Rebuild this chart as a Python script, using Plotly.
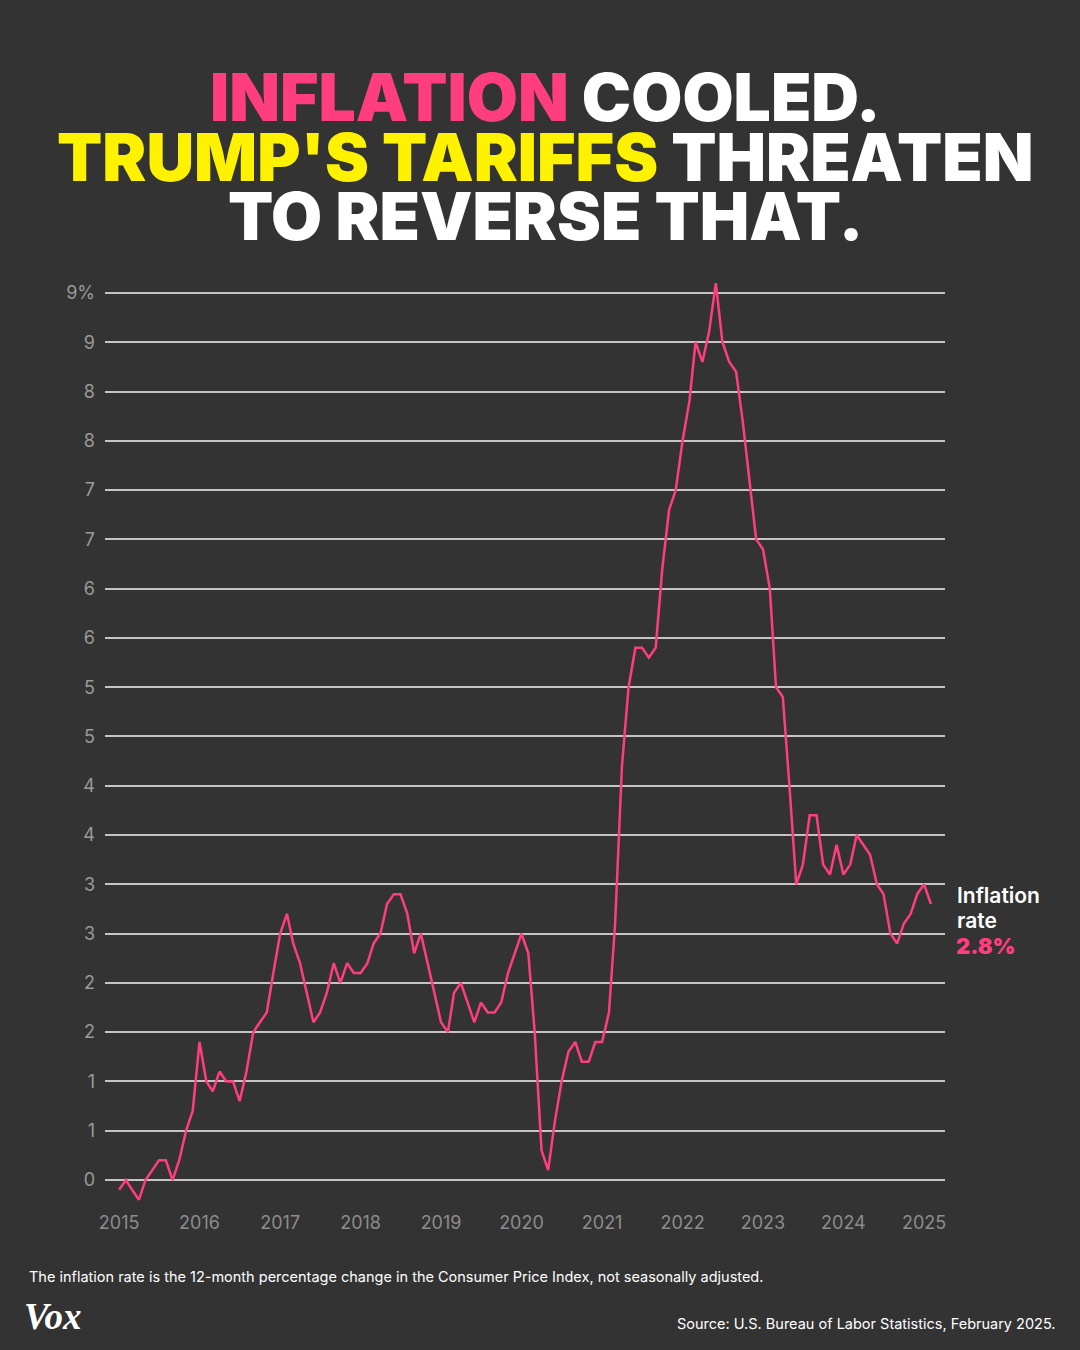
import pandas as pd
import plotly.graph_objects as go

# 12-month % change in CPI, monthly, Jan 2015 - Feb 2025
months = pd.date_range("2015-01-01", "2025-02-01", freq="MS")
cpi_2015 = [-0.1, 0.0, -0.1, -0.2, 0.0, 0.1, 0.2, 0.2, 0.0, 0.2, 0.5, 0.7]
cpi_2016 = [1.4, 1.0, 0.9, 1.1, 1.0, 1.0, 0.8, 1.1, 1.5, 1.6, 1.7, 2.1]
cpi_2017 = [2.5, 2.7, 2.4, 2.2, 1.9, 1.6, 1.7, 1.9, 2.2, 2.0, 2.2, 2.1]
cpi_2018 = [2.1, 2.2, 2.4, 2.5, 2.8, 2.9, 2.9, 2.7, 2.3, 2.5, 2.2, 1.9]
cpi_2019 = [1.6, 1.5, 1.9, 2.0, 1.8, 1.6, 1.8, 1.7, 1.7, 1.8, 2.1, 2.3]
cpi_2020 = [2.5, 2.3, 1.5, 0.3, 0.1, 0.6, 1.0, 1.3, 1.4, 1.2, 1.2, 1.4]
cpi_2021 = [1.4, 1.7, 2.6, 4.2, 5.0, 5.4, 5.4, 5.3, 5.4, 6.2, 6.8, 7.0]
cpi_2022 = [7.5, 7.9, 8.5, 8.3, 8.6, 9.1, 8.5, 8.3, 8.2, 7.7, 7.1, 6.5]
cpi_2023 = [6.4, 6.0, 5.0, 4.9, 4.0, 3.0, 3.2, 3.7, 3.7, 3.2, 3.1, 3.4]
cpi_2024 = [3.1, 3.2, 3.5, 3.4, 3.3, 3.0, 2.9, 2.5, 2.4, 2.6, 2.7, 2.9]
cpi_2025 = [3.0, 2.8]
inflation = (cpi_2015 + cpi_2016 + cpi_2017 + cpi_2018 + cpi_2019 + cpi_2020
             + cpi_2021 + cpi_2022 + cpi_2023 + cpi_2024 + cpi_2025)

y_ticks = [0, 0.5, 1, 1.5, 2, 2.5, 3, 3.5, 4, 4.5, 5, 5.5, 6, 6.5, 7, 7.5, 8, 8.5, 9]
y_labels = ["0", "1", "1", "2", "2", "3", "3", "4", "4", "5", "5",
            "6", "6", "7", "7", "8", "8", "9", "9%"]
x_years = list(range(2015, 2026))

BG = "#333333"
PINK = "#ff3d7f"
YELLOW = "#fff200"
W, H = 1080, 1350
L, R, T, B = 105, 135, 270, 145


def px(x):
    return (x - L) / (W - L - R)


def py(y):
    return (H - B - y) / (H - T - B)


fig = go.Figure()
fig.add_trace(go.Scatter(
    x=months, y=inflation, mode="lines",
    line=dict(color=PINK, width=2.5),
    hoverinfo="skip", showlegend=False,
))

heavy = dict(family="Inter", size=66, weight=900)
title_lines = [
    (97, f"<span style='color:{PINK}'>INFLATION</span> COOLED."),
    (157, f"<span style='color:{YELLOW}'>TRUMP'S TARIFFS</span> THREATEN"),
    (216, "TO REVERSE THAT."),
]
annotations = []
for yy, txt in title_lines:
    annotations.append(dict(
        x=px(545), y=py(yy), xref="paper", yref="paper", text=txt,
        showarrow=False, xanchor="center", yanchor="middle",
        font=dict(color="white", **heavy),
    ))

annotations += [
    dict(x=px(955), y=py(895), text="Inflation", xanchor="left",
         font=dict(family="Inter", size=21, weight=600, color="white")),
    dict(x=px(955), y=py(920), text="rate", xanchor="left",
         font=dict(family="Inter", size=21, weight=600, color="white")),
    dict(x=px(954), y=py(946), text="2.8%", xanchor="left",
         font=dict(family="Inter", size=22, weight=900, color=PINK)),
    dict(x=px(27), y=py(1277), xanchor="left",
         text="The inflation rate is the 12-month percentage change in the Consumer Price Index, not seasonally adjusted.",
         font=dict(family="Inter", size=14.5, color="white")),
    dict(x=px(1058), y=py(1323), xanchor="right",
         text="Source: U.S. Bureau of Labor Statistics, February 2025.",
         font=dict(family="Inter", size=14.5, color="white")),
    dict(x=px(22), y=py(1316), xanchor="left", text="<b><i>Vox</i></b>",
         font=dict(family="Liberation Serif", size=37, color="white")),
]
for a in annotations[3:]:
    a.update(xref="paper", yref="paper", showarrow=False, yanchor="middle")

fig.update_layout(
    width=W, height=H,
    margin=dict(l=L, r=R, t=T, b=B, pad=0),
    paper_bgcolor=BG, plot_bgcolor=BG,
    font=dict(family="Inter", color="#999999"),
    annotations=annotations,
    xaxis=dict(
        range=["2014-10-29", "2025-04-06"],
        tickvals=[f"{y}-01-01" for y in x_years],
        ticktext=[str(y) for y in x_years],
        showgrid=False, zeroline=False, showline=False, ticks="",
        tickfont=dict(size=18, color="#8c8c8c"),
        ticklabelstandoff=5,
    ),
    yaxis=dict(
        range=[-0.254, 9.233],
        tickvals=y_ticks, ticktext=y_labels,
        showgrid=True, gridcolor="#c4c4c4", gridwidth=1.5,
        zeroline=False, showline=False, ticks="",
        tickfont=dict(size=18, color="#9a9a9a"),
        ticklabelstandoff=9,
    ),
)

fig.write_html("out.html", config={"displayModeBar": False},
               post_script="document.body.style.margin='0';")
